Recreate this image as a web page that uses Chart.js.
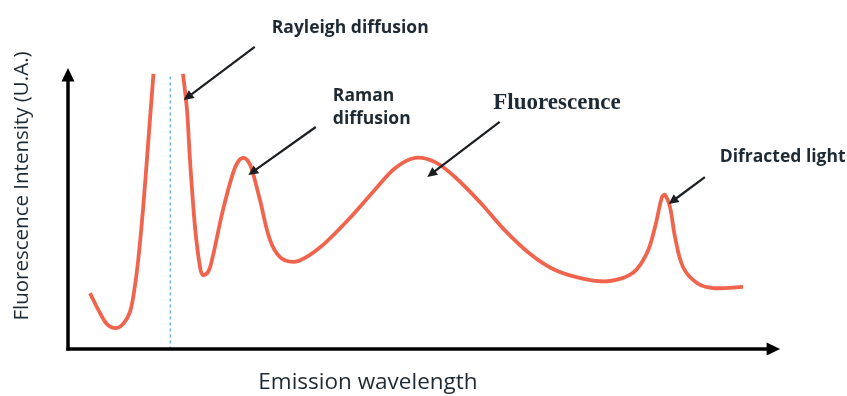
<!DOCTYPE html>
<html>
<head>
<meta charset="utf-8">
<title>Fluorescence spectrum</title>
<script src="https://cdn.jsdelivr.net/npm/chart.js@4.4.1/dist/chart.umd.min.js"></script>
<style>
  html, body { margin: 0; padding: 0; background: #fff; }
  #wrap { width: 847px; height: 396px; }
  canvas { filter: blur(0.5px); }
</style>
</head>
<body>
<div id="wrap"><canvas id="spectrum"></canvas></div>
<script>
// emission wavelength (arbitrary units, 0-100)
const wavelength = [
  3.10, 4.51, 5.63, 6.90, 7.89, 8.73, 9.30, 9.86, 10.56, 11.27, 11.83, 12.04,
  14.4,
  16.20, 16.76, 17.18, 17.89, 18.59, 19.01, 19.72, 20.28, 21.83, 23.24, 23.94, 24.65, 25.35,
  25.92, 27.04, 28.45, 29.86, 31.69, 33.38, 36.2, 39.7, 43.2, 46.1, 48.9, 51.7, 54.5, 58.0,
  61.5, 65.1, 68.6, 72.8, 76.34, 79.58, 81.55, 82.68, 83.66, 84.08, 84.79, 85.49, 86.62,
  88.59, 90.85, 95.07
];
// fluorescence intensity (U.A.), null = gap around the excitation line
const intensity = [
  19.9, 12.8, 8.5, 7.5, 9.3, 13.2, 20.3, 31.0, 49.5, 72.6, 91.1, 97.9,
  null,
  97.9, 85.1, 67.3, 43.4, 29.2, 26.3, 27.4, 31.7, 49.5, 62.6, 66.6, 68.0, 66.9,
  63.7, 53.0, 38.8, 32.7, 31.0, 32.4, 37.7, 46.6, 56.6, 64.4, 68.0, 66.5, 61.2, 52.3,
  42.3, 33.8, 28.1, 24.9, 24.2, 27.1, 34.2, 43.4, 54.1, 54.8, 50.5, 39.9, 29.2,
  23.5, 21.7, 22.1
];
// excitation wavelength marker
const excitation = 14.4;

// callouts: text lines + arrow from (x1,y1) to (x2,y2), all in data units
const labels = [
  { lines: ['Rayleigh diffusion'], x: 28.7, y: 114.2, font: 'bold 17.5px "Open Sans"', ax: [26.3, 107.5, 16.3, 88.6] },
  { lines: ['Raman', 'diffusion'], x: 37.3, y: 90.0, font: 'bold 17.5px "Open Sans"', ax: [34.9, 79.0, 25.4, 61.9] },
  { lines: ['Fluorescence'], x: 59.9, y: 87.5, font: 'bold 23px "Liberation Serif"', ax: [60.8, 80.8, 50.6, 61.2] },
  { lines: ['Difracted light'], x: 91.8, y: 68.3, font: 'bold 17.5px "Open Sans"', ax: [89.7, 61.2, 84.6, 51.6] }
];

const points = wavelength.map((w, i) => ({ x: w, y: intensity[i] }));

function arrow(ctx, x1, y1, x2, y2, head, width) {
  const a = Math.atan2(y2 - y1, x2 - x1);
  ctx.lineWidth = width;
  ctx.beginPath();
  ctx.moveTo(x1, y1);
  ctx.lineTo(x2 - Math.cos(a) * head * 0.8, y2 - Math.sin(a) * head * 0.8);
  ctx.stroke();
  ctx.beginPath();
  ctx.moveTo(x2, y2);
  ctx.lineTo(x2 - head * Math.cos(a - 0.45), y2 - head * Math.sin(a - 0.45));
  ctx.lineTo(x2 - head * Math.cos(a + 0.45), y2 - head * Math.sin(a + 0.45));
  ctx.closePath();
  ctx.fill();
}

const decorations = {
  id: 'decorations',
  beforeDatasetsDraw(chart) {
    const ctx = chart.ctx;
    const xs = chart.scales.x, ys = chart.scales.y;
    // dashed excitation line
    ctx.save();
    ctx.strokeStyle = '#4aa6d6';
    ctx.lineWidth = 1.2;
    ctx.setLineDash([3, 3]);
    ctx.beginPath();
    ctx.moveTo(xs.getPixelForValue(excitation), ys.getPixelForValue(97));
    ctx.lineTo(xs.getPixelForValue(excitation), ys.getPixelForValue(0));
    ctx.stroke();
    ctx.restore();
  },
  afterDatasetsDraw(chart) {
    const ctx = chart.ctx;
    const xs = chart.scales.x, ys = chart.scales.y;
    const x0 = xs.getPixelForValue(0), y0 = ys.getPixelForValue(0);
    ctx.save();
    ctx.strokeStyle = '#000';
    ctx.fillStyle = '#000';
    // axes with arrow heads
    arrow(ctx, x0, y0 + 1.5, x0, ys.getPixelForValue(100), 15, 3.5);
    arrow(ctx, x0 - 1.5, y0, xs.getPixelForValue(100.3), y0, 15, 3.5);

    // callouts
    ctx.strokeStyle = '#1b1f22';
    ctx.fillStyle = '#1b1f22';
    labels.forEach(l => {
      const [ax1, ay1, ax2, ay2] = l.ax;
      arrow(ctx, xs.getPixelForValue(ax1), ys.getPixelForValue(ay1),
        xs.getPixelForValue(ax2), ys.getPixelForValue(ay2), 11, 2.2);
    });
    ctx.fillStyle = '#1e2a33';
    ctx.textBaseline = 'middle';
    ctx.textAlign = 'left';
    labels.forEach(l => {
      ctx.font = l.font;
      l.lines.forEach((t, i) => {
        ctx.fillText(t, xs.getPixelForValue(l.x), ys.getPixelForValue(l.y) + i * 23);
      });
    });

    // axis titles
    ctx.font = '22.5px "Open Sans"';
    ctx.textAlign = 'center';
    ctx.fillText('Emission wavelength', 368, 383);
    ctx.translate(22, 186);
    ctx.rotate(-Math.PI / 2);
    ctx.font = '20.5px "Open Sans"';
    ctx.fillText('Fluorescence Intensity (U.A.)', 0, 0);
    ctx.restore();
  }
};

new Chart(document.getElementById('spectrum'), {
  type: 'line',
  data: {
    datasets: [{
      data: points,
      borderColor: '#f0644d',
      borderWidth: 3.8,
      pointRadius: 0,
      fill: false,
      spanGaps: false,
      tension: 0.35,
      clip: false
    }]
  },
  options: {
    responsive: true,
    maintainAspectRatio: false,
    animation: false,
    layout: { padding: { left: 68, right: 69, top: 68, bottom: 47 } },
    plugins: { legend: { display: false }, tooltip: { enabled: false } },
    scales: {
      x: { type: 'linear', min: 0, max: 100, display: false },
      y: { min: 0, max: 100, display: false }
    }
  },
  plugins: [decorations]
});
</script>
</body>
</html>
